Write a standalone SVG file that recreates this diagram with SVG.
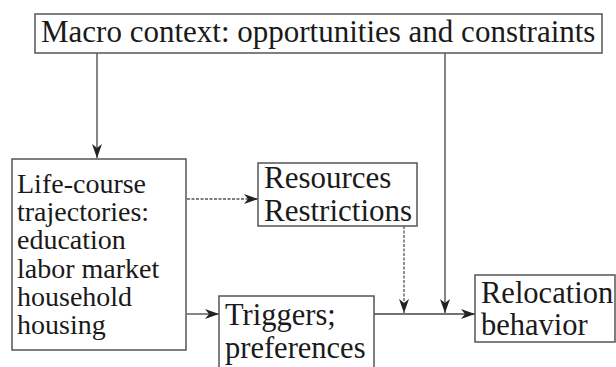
<svg xmlns="http://www.w3.org/2000/svg" width="616" height="367" viewBox="0 0 616 367">
<style>
.box{fill:#fff;stroke:#555;stroke-width:1.5}
.t{font-family:'Liberation Serif', 'Times New Roman', serif;fill:#1a1a1a}
.c{stroke:#444;stroke-width:1.3;fill:none}
.d{stroke:#555;stroke-width:1.3;fill:none;stroke-dasharray:3 1.5}
</style>
<defs>
<marker id="ah" viewBox="0 0 14 10" refX="14" refY="5" markerWidth="14" markerHeight="10" markerUnits="userSpaceOnUse" orient="auto">
<path d="M0,0 L14,5 L0,10 L4,5 Z" fill="#222"/>
</marker>
</defs>
<rect width="616" height="367" fill="#fff"/>
<g id="connectors">
<line class="c" x1="97" y1="53" x2="97" y2="158" marker-end="url(#ah)"/>
<line class="c" x1="445" y1="53" x2="445" y2="313" marker-end="url(#ah)"/>
<line class="d" x1="187" y1="199" x2="258" y2="199" marker-end="url(#ah)"/>
<line class="c" x1="187" y1="314" x2="219" y2="314" marker-end="url(#ah)"/>
<line class="d" x1="404" y1="226" x2="404" y2="313" marker-end="url(#ah)"/>
<line class="c" x1="374" y1="314" x2="475" y2="314" marker-end="url(#ah)"/>
</g>
<g id="macro">
<rect class="box" x="35" y="14" width="567" height="39"/>
<text class="t" x="41" y="42" font-size="31">Macro context: opportunities and constraints</text>
</g>
<g id="lifecourse">
<rect class="box" x="12" y="159" width="174" height="191"/>
<text class="t" font-size="28">
<tspan x="17" y="193">Life-course</tspan>
<tspan x="17" y="221.2">trajectories:</tspan>
<tspan x="17" y="249.4">education</tspan>
<tspan x="17" y="277.6">labor market</tspan>
<tspan x="17" y="305.8">household</tspan>
<tspan x="17" y="334">housing</tspan>
</text>
</g>
<g id="resources">
<rect class="box" x="258" y="163" width="159" height="63"/>
<text class="t" font-size="31">
<tspan x="264" y="188">Resources</tspan>
<tspan x="264" y="221">Restrictions</tspan>
</text>
</g>
<g id="triggers">
<rect class="box" x="219" y="296" width="155" height="80"/>
<text class="t" font-size="30.5">
<tspan x="225" y="325">Triggers;</tspan>
<tspan x="225" y="358">preferences</tspan>
</text>
</g>
<g id="relocation">
<rect class="box" x="475" y="275" width="140" height="67"/>
<text class="t" font-size="30.5">
<tspan x="481" y="303">Relocation</tspan>
<tspan x="481" y="335">behavior</tspan>
</text>
</g>
</svg>
